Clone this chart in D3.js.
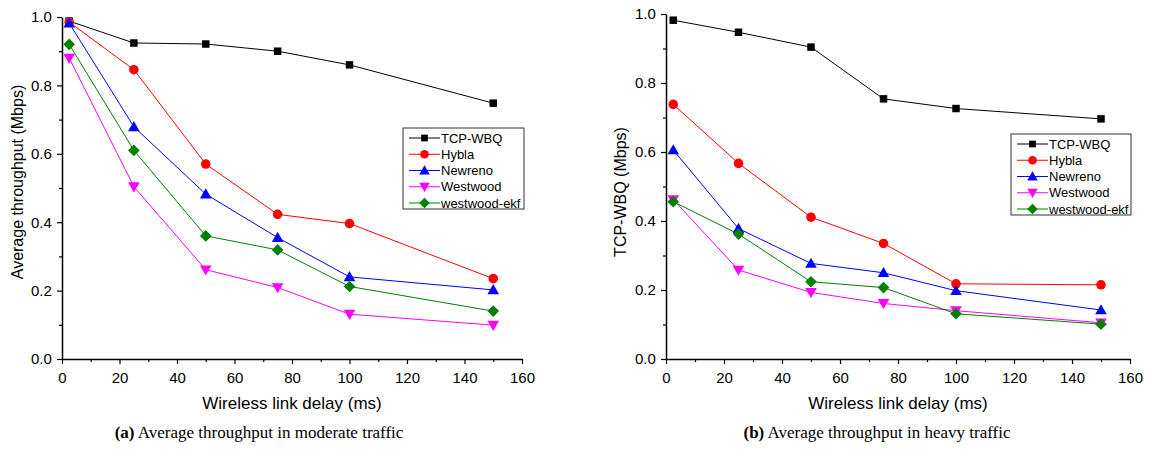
<!DOCTYPE html>
<html>
<head>
<meta charset="utf-8">
<script src="https://cdn.jsdelivr.net/npm/d3@7"></script>
<style>
  body { margin: 0; background: #fff; }
  svg text { font-family: Arial, "Liberation Sans", sans-serif; fill: #000; }
  .caption { font-family: "Times New Roman", "Liberation Serif", serif; font-size: 17px; }
</style>
</head>
<body>
<div id="chart"></div>
<script>
var w = 1155, h = 453;

// data
var delays = [2.5, 25, 50, 75, 100, 150];
var seriesNames = ["TCP-WBQ", "Hybla", "Newreno", "Westwood", "westwood-ekf"];
var seriesColors = ["#000000", "#ff0000", "#0000ff", "#ff00ff", "#008000"];
var seriesSymbols = ["square", "circle", "triangle", "triangleDown", "diamond"];

// (a) moderate traffic
var moderateWBQ = [0.988, 0.924, 0.921, 0.900, 0.860, 0.748];
var moderateHybla = [0.985, 0.846, 0.570, 0.423, 0.396, 0.235];
var moderateNewreno = [0.982, 0.679, 0.482, 0.355, 0.240, 0.202];
var moderateWestwood = [0.880, 0.504, 0.261, 0.209, 0.131, 0.099];
var moderateEkf = [0.920, 0.610, 0.360, 0.319, 0.212, 0.140];

// (b) heavy traffic
var heavyWBQ = [0.982, 0.947, 0.904, 0.754, 0.726, 0.696];
var heavyHybla = [0.738, 0.567, 0.411, 0.335, 0.218, 0.215];
var heavyNewreno = [0.606, 0.378, 0.277, 0.250, 0.198, 0.142];
var heavyWestwood = [0.462, 0.258, 0.193, 0.161, 0.140, 0.105];
var heavyEkf = [0.456, 0.362, 0.224, 0.207, 0.131, 0.101];

var xTicks = [0, 20, 40, 60, 80, 100, 120, 140, 160];
var yTicks = [0.0, 0.2, 0.4, 0.6, 0.8, 1.0];

var svg = d3.select("#chart").append("svg").attr("width", w).attr("height", h);

function symbolPath(kind) {
  var s;
  switch (kind) {
    case "square": return d3.symbol().type(d3.symbolSquare).size(56)();
    case "circle": return d3.symbol().type(d3.symbolCircle).size(72)();
    case "triangle":
      s = 5.8; return "M0," + (-s) + "L" + s + "," + (s * 0.75) + "L" + (-s) + "," + (s * 0.75) + "Z";
    case "triangleDown":
      s = 5.8; return "M0," + s + "L" + s + "," + (-s * 0.75) + "L" + (-s) + "," + (-s * 0.75) + "Z";
    case "diamond":
      s = 5.8; return "M0," + (-s) + "L" + s + ",0L0," + s + "L" + (-s) + ",0Z";
  }
}

function drawPanel(cfg) {
  var x = d3.scaleLinear().domain([0, 160]).range([cfg.x0, cfg.x1]);
  var y = d3.scaleLinear().domain([0, 1]).range([cfg.y0, cfg.y1]);
  var g = svg.append("g");

  // minor ticks
  var xMinor = d3.range(10, 160, 20);
  var yMinor = [0.1, 0.3, 0.5, 0.7, 0.9];

  var xAxis = g.append("g").attr("transform", "translate(0," + cfg.y0 + ")")
    .call(d3.axisBottom(x).tickValues(xTicks).tickSize(5).tickSizeOuter(0));
  g.append("g").attr("transform", "translate(0," + cfg.y0 + ")")
    .call(d3.axisBottom(x).tickValues(xMinor).tickSize(3).tickFormat("").tickSizeOuter(0))
    .select(".domain").remove();
  var yAxis = g.append("g").attr("transform", "translate(" + cfg.x0 + ",0)")
    .call(d3.axisLeft(y).tickValues(yTicks).tickSize(5).tickSizeOuter(0).tickFormat(d3.format(".1f")));
  g.append("g").attr("transform", "translate(" + cfg.x0 + ",0)")
    .call(d3.axisLeft(y).tickValues(yMinor).tickSize(3).tickFormat("").tickSizeOuter(0))
    .select(".domain").remove();

  g.selectAll(".domain").attr("stroke", "#000").attr("stroke-width", 1.5);
  g.selectAll(".tick line").attr("stroke", "#000").attr("stroke-width", 1.2);
  xAxis.selectAll("text").attr("font-size", 15).attr("font-family", "Arial, 'Liberation Sans', sans-serif").attr("dy", "1.07em");
  yAxis.selectAll("text").attr("font-size", 15).attr("font-family", "Arial, 'Liberation Sans', sans-serif").attr("dx", "-0.15em");

  g.append("text").attr("x", (cfg.x0 + cfg.x1) / 2).attr("y", 409)
    .attr("text-anchor", "middle").attr("font-size", 17).text("Wireless link delay (ms)");
  g.append("text").attr("transform", "translate(" + cfg.yTitleX + "," + cfg.yTitleY + ") rotate(-90)")
    .attr("text-anchor", "middle").attr("font-size", 16).text(cfg.yTitle);

  var line = d3.line().x(function(d, i) { return x(delays[i]); }).y(function(d) { return y(d); });

  cfg.series.forEach(function(vals, k) {
    g.append("path").datum(vals).attr("d", line).attr("fill", "none")
      .attr("stroke", seriesColors[k]).attr("stroke-width", 1);
  });
  cfg.series.forEach(function(vals, k) {
    g.selectAll(null).data(vals).enter().append("path")
      .attr("d", symbolPath(seriesSymbols[k]))
      .attr("transform", function(d, i) { return "translate(" + x(delays[i]) + "," + y(d) + ")"; })
      .attr("fill", seriesColors[k]);
  });

  // legend
  var lg = g.append("g").attr("transform", "translate(" + cfg.legX + "," + cfg.legY + ")");
  lg.append("rect").attr("width", cfg.legW).attr("height", 81)
    .attr("fill", "#fff").attr("stroke", "#333").attr("stroke-width", 1);
  seriesNames.forEach(function(name, k) {
    var yy = 10 + k * 16.25;
    var row = lg.append("g").attr("transform", "translate(0," + yy + ")");
    row.append("line").attr("x1", 6).attr("x2", 37).attr("y1", 0).attr("y2", 0)
      .attr("stroke", seriesColors[k]).attr("stroke-width", 1);
    row.append("path").attr("d", symbolPath(seriesSymbols[k]))
      .attr("transform", "translate(21.5,0) scale(0.9)").attr("fill", seriesColors[k]);
    row.append("text").attr("x", 38).attr("y", 0).attr("dy", "0.36em")
      .attr("font-size", 13).text(name);
  });

  var cap = g.append("text").attr("class", "caption").attr("x", cfg.capX).attr("y", 438)
    .attr("text-anchor", "middle");
  cap.append("tspan").attr("font-weight", "bold").text(cfg.capBold);
  cap.append("tspan").text(cfg.capText);
}

drawPanel({
  x0: 62, x1: 522, y0: 359, y1: 17,
  yTitle: "Average throughput (Mbps)", yTitleX: 23, yTitleY: 182,
  series: [moderateWBQ, moderateHybla, moderateNewreno, moderateWestwood, moderateEkf],
  legX: 403, legY: 128, legW: 121,
  capX: 259, capBold: "(a)", capText: " Average throughput in moderate traffic"
});

drawPanel({
  x0: 666, x1: 1130, y0: 359, y1: 14,
  yTitle: "TCP-WBQ (Mbps)", yTitleX: 626, yTitleY: 192,
  series: [heavyWBQ, heavyHybla, heavyNewreno, heavyWestwood, heavyEkf],
  legX: 1011, legY: 134, legW: 120,
  capX: 877, capBold: "(b)", capText: " Average throughput in heavy traffic"
});
</script>
</body>
</html>
